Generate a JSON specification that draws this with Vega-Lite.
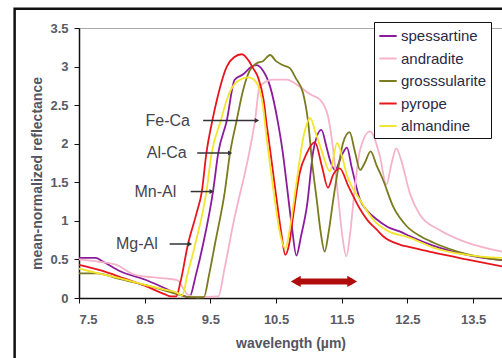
{
  "$schema": "https://vega.github.io/schema/vega-lite/v6.json",
  "width": 423,
  "height": 270,
  "autosize": {"type": "none"},
  "padding": {"left": 79, "top": 28, "right": 0, "bottom": 60},
  "background": "white",
  "config": {
    "view": {"stroke": "#aaaaaa", "strokeWidth": 1},
    "font": "Liberation Sans",
    "axis": {
      "grid": false,
      "domainColor": "#111111",
      "domainWidth": 1.5,
      "tickColor": "#111111",
      "tickSize": 5,
      "labelColor": "#5a5a66",
      "labelFont": "Liberation Sans",
      "labelFontSize": 13,
      "labelFontWeight": "bold",
      "labelOverlap": false,
      "titleColor": "#55555f",
      "titleFont": "Liberation Sans",
      "titleFontSize": 14,
      "titleFontWeight": "bold"
    }
  },
  "datasets": {
    "spectra": [
      {"s": "spessartine", "x": 7.5, "y": 0.52}, {"s": "spessartine", "x": 7.75, "y": 0.52}, {"s": "spessartine", "x": 7.87, "y": 0.47}, {"s": "spessartine", "x": 8.12, "y": 0.35}, {"s": "spessartine", "x": 8.5, "y": 0.24}, {"s": "spessartine", "x": 8.8, "y": 0.13}, {"s": "spessartine", "x": 9.04, "y": 0.04}, {"s": "spessartine", "x": 9.18, "y": 0.01}, {"s": "spessartine", "x": 9.28, "y": 0.3}, {"s": "spessartine", "x": 9.39, "y": 0.7}, {"s": "spessartine", "x": 9.54, "y": 1.38}, {"s": "spessartine", "x": 9.62, "y": 1.88}, {"s": "spessartine", "x": 9.75, "y": 2.3}, {"s": "spessartine", "x": 9.87, "y": 2.83}, {"s": "spessartine", "x": 10.0, "y": 2.9}, {"s": "spessartine", "x": 10.13, "y": 3.0}, {"s": "spessartine", "x": 10.2, "y": 3.02}, {"s": "spessartine", "x": 10.3, "y": 2.95}, {"s": "spessartine", "x": 10.41, "y": 2.74}, {"s": "spessartine", "x": 10.53, "y": 2.27}, {"s": "spessartine", "x": 10.6, "y": 1.9}, {"s": "spessartine", "x": 10.66, "y": 1.49}, {"s": "spessartine", "x": 10.74, "y": 0.93}, {"s": "spessartine", "x": 10.81, "y": 0.55}, {"s": "spessartine", "x": 10.88, "y": 0.8}, {"s": "spessartine", "x": 10.97, "y": 1.19}, {"s": "spessartine", "x": 11.07, "y": 1.92}, {"s": "spessartine", "x": 11.19, "y": 2.18}, {"s": "spessartine", "x": 11.27, "y": 1.95}, {"s": "spessartine", "x": 11.32, "y": 1.79}, {"s": "spessartine", "x": 11.4, "y": 1.66}, {"s": "spessartine", "x": 11.5, "y": 1.85}, {"s": "spessartine", "x": 11.58, "y": 1.95}, {"s": "spessartine", "x": 11.65, "y": 1.7}, {"s": "spessartine", "x": 11.78, "y": 1.27}, {"s": "spessartine", "x": 11.9, "y": 1.12}, {"s": "spessartine", "x": 12.03, "y": 1.02}, {"s": "spessartine", "x": 12.2, "y": 0.92}, {"s": "spessartine", "x": 12.39, "y": 0.86}, {"s": "spessartine", "x": 12.54, "y": 0.8}, {"s": "spessartine", "x": 12.89, "y": 0.68}, {"s": "spessartine", "x": 13.4, "y": 0.56}, {"s": "spessartine", "x": 13.94, "y": 0.49},
      {"s": "andradite", "x": 7.5, "y": 0.5}, {"s": "andradite", "x": 7.8, "y": 0.47}, {"s": "andradite", "x": 8.07, "y": 0.43}, {"s": "andradite", "x": 8.35, "y": 0.3}, {"s": "andradite", "x": 8.6, "y": 0.27}, {"s": "andradite", "x": 8.85, "y": 0.25}, {"s": "andradite", "x": 9.0, "y": 0.23}, {"s": "andradite", "x": 9.07, "y": 0.15}, {"s": "andradite", "x": 9.15, "y": 0.05}, {"s": "andradite", "x": 9.3, "y": 0.01}, {"s": "andradite", "x": 9.62, "y": 0.02}, {"s": "andradite", "x": 9.72, "y": 0.4}, {"s": "andradite", "x": 9.85, "y": 0.97}, {"s": "andradite", "x": 10.1, "y": 1.92}, {"s": "andradite", "x": 10.18, "y": 2.3}, {"s": "andradite", "x": 10.25, "y": 2.74}, {"s": "andradite", "x": 10.45, "y": 2.83}, {"s": "andradite", "x": 10.66, "y": 2.83}, {"s": "andradite", "x": 10.86, "y": 2.74}, {"s": "andradite", "x": 11.02, "y": 2.64}, {"s": "andradite", "x": 11.17, "y": 2.57}, {"s": "andradite", "x": 11.29, "y": 2.36}, {"s": "andradite", "x": 11.37, "y": 1.92}, {"s": "andradite", "x": 11.45, "y": 1.27}, {"s": "andradite", "x": 11.51, "y": 0.8}, {"s": "andradite", "x": 11.57, "y": 0.54}, {"s": "andradite", "x": 11.63, "y": 0.85}, {"s": "andradite", "x": 11.68, "y": 1.27}, {"s": "andradite", "x": 11.78, "y": 1.92}, {"s": "andradite", "x": 11.93, "y": 2.16}, {"s": "andradite", "x": 12.08, "y": 1.84}, {"s": "andradite", "x": 12.18, "y": 1.47}, {"s": "andradite", "x": 12.26, "y": 1.75}, {"s": "andradite", "x": 12.33, "y": 1.94}, {"s": "andradite", "x": 12.4, "y": 1.8}, {"s": "andradite", "x": 12.54, "y": 1.35}, {"s": "andradite", "x": 12.69, "y": 1.08}, {"s": "andradite", "x": 12.99, "y": 0.88}, {"s": "andradite", "x": 13.4, "y": 0.72}, {"s": "andradite", "x": 13.94, "y": 0.6},
      {"s": "grosssularite", "x": 7.5, "y": 0.32}, {"s": "grosssularite", "x": 7.77, "y": 0.32}, {"s": "grosssularite", "x": 8.1, "y": 0.25}, {"s": "grosssularite", "x": 8.5, "y": 0.17}, {"s": "grosssularite", "x": 8.8, "y": 0.1}, {"s": "grosssularite", "x": 9.04, "y": 0.04}, {"s": "grosssularite", "x": 9.2, "y": 0.01}, {"s": "grosssularite", "x": 9.4, "y": 0.01}, {"s": "grosssularite", "x": 9.48, "y": 0.3}, {"s": "grosssularite", "x": 9.57, "y": 0.7}, {"s": "grosssularite", "x": 9.72, "y": 1.38}, {"s": "grosssularite", "x": 9.8, "y": 1.88}, {"s": "grosssularite", "x": 9.9, "y": 2.3}, {"s": "grosssularite", "x": 10.0, "y": 2.7}, {"s": "grosssularite", "x": 10.1, "y": 2.95}, {"s": "grosssularite", "x": 10.2, "y": 3.04}, {"s": "grosssularite", "x": 10.3, "y": 3.07}, {"s": "grosssularite", "x": 10.41, "y": 3.15}, {"s": "grosssularite", "x": 10.5, "y": 3.07}, {"s": "grosssularite", "x": 10.6, "y": 3.02}, {"s": "grosssularite", "x": 10.71, "y": 2.98}, {"s": "grosssularite", "x": 10.8, "y": 2.85}, {"s": "grosssularite", "x": 10.91, "y": 2.66}, {"s": "grosssularite", "x": 10.99, "y": 2.27}, {"s": "grosssularite", "x": 11.05, "y": 1.75}, {"s": "grosssularite", "x": 11.12, "y": 1.27}, {"s": "grosssularite", "x": 11.18, "y": 0.85}, {"s": "grosssularite", "x": 11.24, "y": 0.6}, {"s": "grosssularite", "x": 11.3, "y": 0.85}, {"s": "grosssularite", "x": 11.37, "y": 1.27}, {"s": "grosssularite", "x": 11.45, "y": 1.7}, {"s": "grosssularite", "x": 11.52, "y": 2.01}, {"s": "grosssularite", "x": 11.62, "y": 2.15}, {"s": "grosssularite", "x": 11.7, "y": 1.9}, {"s": "grosssularite", "x": 11.78, "y": 1.66}, {"s": "grosssularite", "x": 11.85, "y": 1.75}, {"s": "grosssularite", "x": 11.94, "y": 1.9}, {"s": "grosssularite", "x": 12.03, "y": 1.72}, {"s": "grosssularite", "x": 12.13, "y": 1.53}, {"s": "grosssularite", "x": 12.28, "y": 1.19}, {"s": "grosssularite", "x": 12.49, "y": 0.93}, {"s": "grosssularite", "x": 12.7, "y": 0.8}, {"s": "grosssularite", "x": 12.89, "y": 0.72}, {"s": "grosssularite", "x": 13.4, "y": 0.57}, {"s": "grosssularite", "x": 13.94, "y": 0.49},
      {"s": "pyrope", "x": 7.5, "y": 0.43}, {"s": "pyrope", "x": 7.82, "y": 0.36}, {"s": "pyrope", "x": 8.2, "y": 0.25}, {"s": "pyrope", "x": 8.5, "y": 0.16}, {"s": "pyrope", "x": 8.8, "y": 0.05}, {"s": "pyrope", "x": 8.9, "y": 0.02}, {"s": "pyrope", "x": 8.98, "y": 0.02}, {"s": "pyrope", "x": 9.04, "y": 0.19}, {"s": "pyrope", "x": 9.16, "y": 0.7}, {"s": "pyrope", "x": 9.29, "y": 1.1}, {"s": "pyrope", "x": 9.37, "y": 1.38}, {"s": "pyrope", "x": 9.44, "y": 1.88}, {"s": "pyrope", "x": 9.53, "y": 2.3}, {"s": "pyrope", "x": 9.6, "y": 2.57}, {"s": "pyrope", "x": 9.75, "y": 3.0}, {"s": "pyrope", "x": 9.86, "y": 3.12}, {"s": "pyrope", "x": 9.98, "y": 3.16}, {"s": "pyrope", "x": 10.08, "y": 3.08}, {"s": "pyrope", "x": 10.15, "y": 2.98}, {"s": "pyrope", "x": 10.23, "y": 2.85}, {"s": "pyrope", "x": 10.31, "y": 2.57}, {"s": "pyrope", "x": 10.36, "y": 2.23}, {"s": "pyrope", "x": 10.41, "y": 1.92}, {"s": "pyrope", "x": 10.51, "y": 1.27}, {"s": "pyrope", "x": 10.58, "y": 0.84}, {"s": "pyrope", "x": 10.64, "y": 0.56}, {"s": "pyrope", "x": 10.7, "y": 0.7}, {"s": "pyrope", "x": 10.76, "y": 1.06}, {"s": "pyrope", "x": 10.86, "y": 1.62}, {"s": "pyrope", "x": 10.97, "y": 1.88}, {"s": "pyrope", "x": 11.09, "y": 2.02}, {"s": "pyrope", "x": 11.2, "y": 1.7}, {"s": "pyrope", "x": 11.29, "y": 1.43}, {"s": "pyrope", "x": 11.37, "y": 1.6}, {"s": "pyrope", "x": 11.47, "y": 1.68}, {"s": "pyrope", "x": 11.6, "y": 1.45}, {"s": "pyrope", "x": 11.78, "y": 1.15}, {"s": "pyrope", "x": 11.9, "y": 1.0}, {"s": "pyrope", "x": 12.03, "y": 0.89}, {"s": "pyrope", "x": 12.13, "y": 0.8}, {"s": "pyrope", "x": 12.39, "y": 0.69}, {"s": "pyrope", "x": 12.54, "y": 0.66}, {"s": "pyrope", "x": 12.89, "y": 0.59}, {"s": "pyrope", "x": 13.4, "y": 0.5}, {"s": "pyrope", "x": 13.94, "y": 0.41},
      {"s": "almandine", "x": 7.5, "y": 0.38}, {"s": "almandine", "x": 7.8, "y": 0.32}, {"s": "almandine", "x": 8.1, "y": 0.26}, {"s": "almandine", "x": 8.5, "y": 0.17}, {"s": "almandine", "x": 8.8, "y": 0.11}, {"s": "almandine", "x": 8.99, "y": 0.07}, {"s": "almandine", "x": 9.07, "y": 0.03}, {"s": "almandine", "x": 9.15, "y": 0.3}, {"s": "almandine", "x": 9.27, "y": 0.7}, {"s": "almandine", "x": 9.44, "y": 1.38}, {"s": "almandine", "x": 9.52, "y": 1.88}, {"s": "almandine", "x": 9.66, "y": 2.3}, {"s": "almandine", "x": 9.75, "y": 2.57}, {"s": "almandine", "x": 9.9, "y": 2.8}, {"s": "almandine", "x": 10.08, "y": 2.86}, {"s": "almandine", "x": 10.15, "y": 2.84}, {"s": "almandine", "x": 10.23, "y": 2.75}, {"s": "almandine", "x": 10.3, "y": 2.49}, {"s": "almandine", "x": 10.36, "y": 2.05}, {"s": "almandine", "x": 10.46, "y": 1.4}, {"s": "almandine", "x": 10.56, "y": 0.84}, {"s": "almandine", "x": 10.64, "y": 0.64}, {"s": "almandine", "x": 10.72, "y": 0.95}, {"s": "almandine", "x": 10.81, "y": 1.49}, {"s": "almandine", "x": 10.92, "y": 2.1}, {"s": "almandine", "x": 11.02, "y": 2.33}, {"s": "almandine", "x": 11.1, "y": 2.15}, {"s": "almandine", "x": 11.19, "y": 1.92}, {"s": "almandine", "x": 11.32, "y": 1.64}, {"s": "almandine", "x": 11.43, "y": 2.01}, {"s": "almandine", "x": 11.5, "y": 1.85}, {"s": "almandine", "x": 11.57, "y": 1.62}, {"s": "almandine", "x": 11.78, "y": 1.27}, {"s": "almandine", "x": 12.03, "y": 0.97}, {"s": "almandine", "x": 12.2, "y": 0.87}, {"s": "almandine", "x": 12.54, "y": 0.78}, {"s": "almandine", "x": 12.9, "y": 0.65}, {"s": "almandine", "x": 13.4, "y": 0.56}, {"s": "almandine", "x": 13.94, "y": 0.52}
    ],
    "annot": [
      {"label": "Fe-Ca", "tx": 9.19, "ax1": 9.39, "ax2": 10.21, "y": 2.3},
      {"label": "Al-Ca", "tx": 9.14, "ax1": 9.3, "ax2": 9.8, "y": 1.88},
      {"label": "Mn-Al", "tx": 8.98, "ax1": 9.2, "ax2": 9.52, "y": 1.38},
      {"label": "Mg-Al", "tx": 8.7, "ax1": 8.88, "ax2": 9.19, "y": 0.7}
    ],
    "span": [
      {"x1": 10.8, "x2": 11.66, "y": 0.215}
    ]
  },
  "layer": [
    {
      "data": {"name": "spectra"},
      "mark": {"type": "line", "strokeWidth": 1.8, "interpolate": "monotone"},
      "encoding": {
        "x": {
          "field": "x", "type": "quantitative",
          "scale": {"domain": [7.5, 13.94], "nice": false, "zero": false},
          "axis": {"values": [7.5, 8.5, 9.5, 10.5, 11.5, 12.5, 13.5], "tickCount": 12, "format": ".1f", "title": "wavelength (µm)", "titlePadding": 10, "labelPadding": 10}
        },
        "y": {
          "field": "y", "type": "quantitative",
          "scale": {"domain": [0, 3.5], "nice": false},
          "axis": {"values": [0, 0.5, 1, 1.5, 2, 2.5, 3, 3.5], "tickCount": 10, "labelExpr": "format(datum.value, '~g')", "labelOverlap": false, "title": "mean-normalized reflectance", "titleX": -42, "titleY": 145, "titleAlign": "center", "titleBaseline": "middle", "labelPadding": 6}
        },
        "color": {
          "field": "s", "type": "nominal",
          "scale": {
            "domain": ["spessartine", "andradite", "grosssularite", "pyrope", "almandine"],
            "range": ["#8a1c9c", "#f5b3c8", "#7a7a1e", "#e8161c", "#f2e52e"]
          },
          "legend": {
            "title": null, "orient": "none", "legendX": 295, "legendY": -6,
            "strokeColor": "#111111", "fillColor": "white", "padding": 4,
            "labelFontSize": 15, "labelColor": "#2a2a44", "labelFont": "Liberation Sans",
            "symbolType": "stroke", "symbolStrokeWidth": 2, "symbolSize": 300, "rowPadding": 4.5, "labelOffset": 3
          }
        },
        "order": {"field": "x"}
      }
    },
    {
      "data": {"name": "annot"},
      "mark": {"type": "rule", "color": "#333338", "strokeWidth": 1.5},
      "encoding": {
        "x": {"field": "ax1", "type": "quantitative"},
        "x2": {"field": "ax2"},
        "y": {"field": "y", "type": "quantitative"}
      }
    },
    {
      "data": {"name": "annot"},
      "mark": {"type": "point", "shape": "triangle-right", "filled": true, "color": "#333338", "size": 25, "opacity": 1},
      "encoding": {
        "x": {"field": "ax2", "type": "quantitative"},
        "y": {"field": "y", "type": "quantitative"}
      }
    },
    {
      "data": {"name": "annot"},
      "mark": {"type": "text", "align": "right", "baseline": "middle", "fontSize": 16, "font": "Liberation Sans", "color": "#44444f"},
      "encoding": {
        "x": {"field": "tx", "type": "quantitative"},
        "y": {"field": "y", "type": "quantitative"},
        "text": {"field": "label"}
      }
    },
    {
      "data": {"name": "span"},
      "mark": {"type": "rule", "color": "#b00c0c", "strokeWidth": 6},
      "encoding": {
        "x": {"field": "x1", "type": "quantitative"},
        "x2": {"field": "x2"},
        "y": {"field": "y", "type": "quantitative"}
      }
    },
    {
      "data": {"name": "span"},
      "mark": {"type": "point", "shape": "triangle-left", "filled": true, "color": "#b00c0c", "size": 130, "opacity": 1},
      "encoding": {
        "x": {"field": "x1", "type": "quantitative"},
        "y": {"field": "y", "type": "quantitative"}
      }
    },
    {
      "data": {"name": "span"},
      "mark": {"type": "point", "shape": "triangle-right", "filled": true, "color": "#b00c0c", "size": 130, "opacity": 1},
      "encoding": {
        "x": {"field": "x2", "type": "quantitative"},
        "y": {"field": "y", "type": "quantitative"}
      }
    },
    {
      "data": {"values": [{"fx1": 6.52, "fx2": 15.5, "fy1": 3.75, "fy2": -1.5}]},
      "mark": {"type": "rect", "filled": false, "stroke": "#111111", "strokeWidth": 2.5, "clip": false},
      "encoding": {
        "x": {"field": "fx1", "type": "quantitative"},
        "x2": {"field": "fx2"},
        "y": {"field": "fy1", "type": "quantitative"},
        "y2": {"field": "fy2"}
      }
    }
  ]
}
